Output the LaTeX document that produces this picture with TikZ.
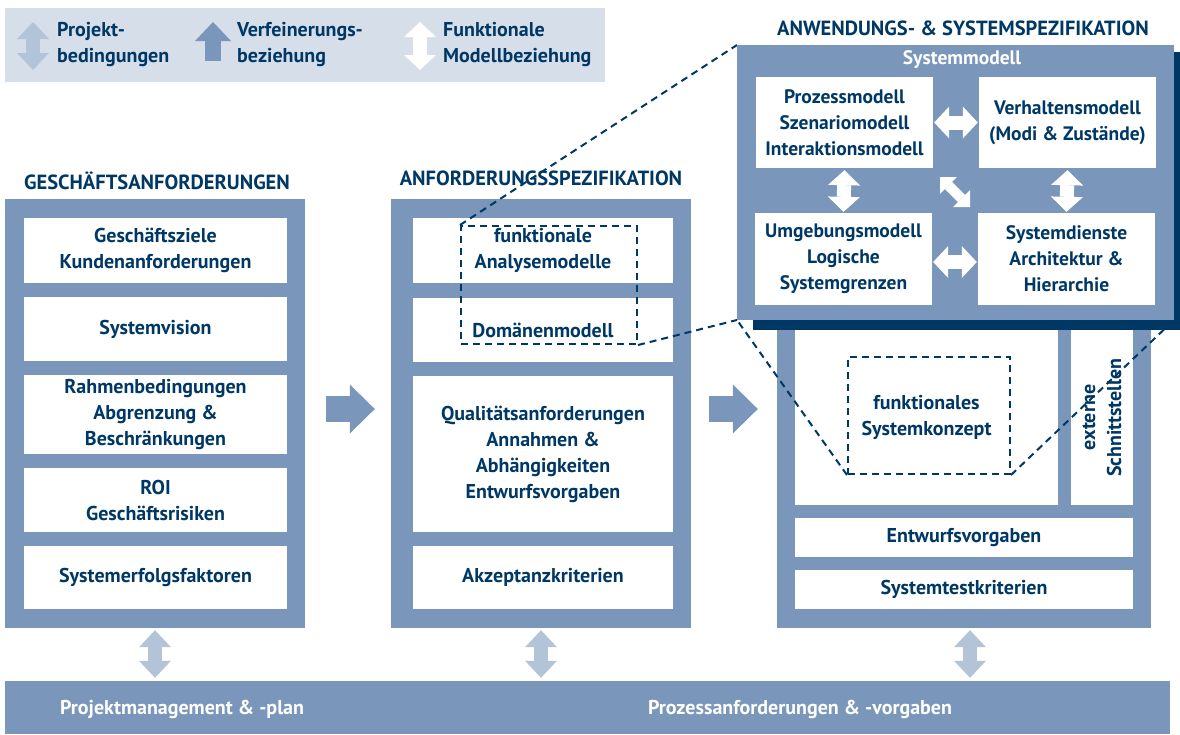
\documentclass[tikz,border=0pt]{standalone}
\usepackage{fontspec}
\setmainfont{PT Sans}
\usetikzlibrary{arrows.meta}
\definecolor{midblue}{HTML}{7A96BA}
\definecolor{legendbg}{HTML}{D6DEE9}
\definecolor{lightblue}{HTML}{B3C3D8}
\definecolor{navy}{HTML}{003865}
\newcommand{\itmfont}{\bfseries\fontsize{20}{26}\selectfont}
\newcommand{\sysfont}{\bfseries\fontsize{19.5}{26}\selectfont}
\newcommand{\hdfont}{\bfseries\fontsize{20.5}{22}\selectfont}
\begin{document}
\begin{tikzpicture}[x=1pt,y=-1pt,
  frame/.style={fill=midblue, inner sep=0pt},
  item/.style={fill=white, text=navy, font=\itmfont, align=center, inner sep=0pt},
  hd/.style={text=navy, font=\hdfont},
  legtext/.style={text=navy, font=\itmfont, align=left, anchor=west, inner sep=0pt},
  dashbox/.style={draw=navy, line width=2pt, dash pattern=on 7pt off 5pt, inner sep=0pt},
  dashline/.style={draw=navy, line width=2pt, dash pattern=on 7pt off 5pt},
  lightarr/.style={draw=lightblue, line width=14pt,
    {Triangle[length=17pt,width=32pt,line width=0pt]}-{Triangle[length=17pt,width=32pt,line width=0pt]}},
  whitearr/.style={draw=white, line width=14pt,
    {Triangle[length=15pt,width=32pt,line width=0pt]}-{Triangle[length=15pt,width=32pt,line width=0pt]}},
  refarr/.style={draw=midblue, line width=16pt, -{Triangle[length=19pt,width=36pt,line width=0pt]}},
  steparr/.style={draw=midblue, line width=26pt, -{Triangle[length=25pt,width=49pt,line width=0pt]}}]
\useasboundingbox (0,0) rectangle (1180,734);

% legend
\node[fill=legendbg, minimum width=600pt, minimum height=74pt] (legend) at (305,45) {};
\coordinate (la1) at (33,22); \coordinate (lb1) at (33,70);
\coordinate (la2) at (213,22); \coordinate (lb2) at (213,61);
\coordinate (la3) at (420,22); \coordinate (lb3) at (420,70);
\path[lightarr] (la1) -- (lb1);
\path[refarr] (lb2) -- (la2);
\path[whitearr] (la3) -- (lb3);
\node[legtext] (lt1) at (57,45) {Projekt-\\bedingungen};
\node[legtext] (lt2) at (237,45) {Verfeinerungs-\\beziehung};
\node[legtext] (lt3) at (443,45) {Funktionale\\Modellbeziehung};

% Geschaeftsanforderungen
\node[hd] (h1) at (157,181) {GESCHÄFTSANFORDERUNGEN};
\node[frame, minimum width=300pt, minimum height=429pt] (f1) at (155,413.5) {};
\node[item, minimum width=263pt, minimum height=65pt] (g1) at (155.5,250.5) {Geschäftsziele\\Kundenanforderungen};
\node[item, minimum width=263pt, minimum height=64pt] (g2) at (155.5,329) {Systemvision};
\node[item, minimum width=263pt, minimum height=79pt] (g3) at (155.5,414.5) {Rahmenbedingungen\\Abgrenzung \&\\Beschränkungen};
\node[item, minimum width=263pt, minimum height=64pt] (g4) at (155.5,500) {ROI\\Geschäftsrisiken};
\node[item, minimum width=263pt, minimum height=63pt] (g5) at (155.5,577.5) {Systemerfolgsfaktoren};

% Anforderungsspezifikation
\node[hd] (h2) at (541,178) {ANFORDERUNGSSPEZIFIKATION};
\node[frame, minimum width=300pt, minimum height=429pt] (f2) at (541,413.5) {};
\node[item, minimum width=260pt, minimum height=65pt] (a1) at (543,250.5) {funktionale\\Analysemodelle};
\node[item, minimum width=260pt, minimum height=64pt] (a2) at (543,330) {Domänenmodell};
\node[item, minimum width=260pt, minimum height=156pt] (a3) at (543,454) {Qualitätsanforderungen\\Annahmen \&\\Abhängigkeiten\\Entwurfsvorgaben};
\node[item, minimum width=260pt, minimum height=63pt] (a4) at (543,577.5) {Akzeptanzkriterien};
\node[dashbox, minimum width=176pt, minimum height=118pt] (d1) at (549,285) {};

% Anwendungs- und Systemspezifikation
\node[hd] (h3) at (963,28) {ANWENDUNGS- \& SYSTEMSPEZIFIKATION};
\node[frame, minimum width=374pt, minimum height=429pt] (f3) at (964,413.5) {};
\node[item, minimum width=263pt, minimum height=175pt] (s1) at (926.5,417.5) {funktionales\\Systemkonzept};
\node[item, rotate=90, minimum width=175pt, minimum height=62pt] (s2) at (1102,417.5) {externe\\Schnittstellen};
\node[item, minimum width=338pt, minimum height=39pt] (s3) at (964,537.5) {Entwurfsvorgaben};
\node[item, minimum width=338pt, minimum height=39pt] (s4) at (964,589.5) {Systemtestkriterien};
\node[dashbox, minimum width=162pt, minimum height=117pt] (d2) at (929,415.5) {};

% Verfeinerung
\path[steparr, shorten <=21pt, shorten >=16pt] ([yshift=4.5pt]f1.east) -- ([yshift=4.5pt]f2.west);
\path[steparr, shorten <=18pt, shorten >=19pt] ([yshift=4.5pt]f2.east) -- ([yshift=4.5pt]f3.west);

% Projektion auf das Systemmodell
\coordinate (snw) at (737,45); \coordinate (ssw) at (737,320); \coordinate (sse) at (1174,320);
\path[dashline] (d1.north west) -- (snw);
\path[dashline] (d1.south east) -- (ssw);
\path[dashline] (d2.south west) -- (ssw);
\path[dashline] (d2.south east) -- (sse);

% Systemmodell
\node[fill=navy, minimum width=427pt, minimum height=278pt] (shadow) at (966.5,191) {};
\node[frame, minimum width=437pt, minimum height=275pt] (sys) at (955.5,182.5) {};
\node[text=white, font=\sysfont] (sysname) at (962,60) {Systemmodell};
\node[item, font=\sysfont, minimum width=177pt, minimum height=91pt] (m1) at (844.5,122.5) {Prozessmodell\\Szenariomodell\\Interaktionsmodell};
\node[item, font=\sysfont, minimum width=177pt, minimum height=91pt] (m2) at (1067.5,122.5) {Verhaltensmodell\\(Modi \& Zustände)};
\node[item, font=\sysfont, minimum width=177pt, minimum height=92pt] (m3) at (843.5,259) {Umgebungsmodell\\Logische\\Systemgrenzen};
\node[item, font=\sysfont, minimum width=177pt, minimum height=92pt] (m4) at (1066.5,259) {Systemdienste\\Architektur \&\\Hierarchie};
\path[whitearr, shorten <=1pt, shorten >=1pt] (m1.east) -- (m2.west);
\path[whitearr, shorten <=2pt, shorten >=1pt] (m1.south) -- (m3.north);
\path[whitearr, shorten <=2pt, shorten >=1pt] (m2.south) -- (m4.north);
\path[whitearr, shorten <=1pt, shorten >=1pt] ([yshift=-3pt]m3.east) -- ([yshift=-3pt]m4.west);
\coordinate (dg1) at (940,177); \coordinate (dg2) at (970,207);
\path[draw=white, line width=10pt,
  {Triangle[length=12pt,width=24pt,line width=0pt]}-{Triangle[length=12pt,width=24pt,line width=0pt]}] (dg1) -- (dg2);

% Projektbedingungen
\node[frame, minimum width=1165pt, minimum height=53pt] (bar) at (587.5,707.5) {};
\node[text=white, font=\itmfont] (pm) at (182,709) {Projektmanagement \& -plan};
\node[text=white, font=\itmfont] (pa) at (800,709) {Prozessanforderungen \& -vorgaben};
\path[lightarr, shorten <=2pt, shorten >=3pt] (f1.south) -- (f1.south |- bar.north);
\path[lightarr, shorten <=2pt, shorten >=3pt] (f2.south) -- (f2.south |- bar.north);
\path[lightarr, shorten <=2pt, shorten >=3pt] ([xshift=6pt]f3.south) -- ([xshift=6pt]f3.south |- bar.north);
\end{tikzpicture}
\end{document}
